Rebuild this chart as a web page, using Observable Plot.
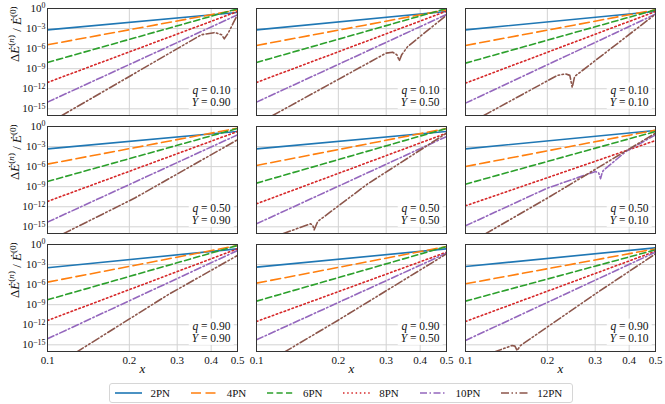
<!DOCTYPE html>
<html><head><meta charset="utf-8">
<script src="https://cdn.jsdelivr.net/npm/d3@7"></script>
<script src="https://cdn.jsdelivr.net/npm/@observablehq/plot@0.6"></script>
<style>
body{margin:0;background:#fff;font-family:"Liberation Serif",serif;}
#wrap{position:relative;width:665px;height:404px;overflow:hidden;}
#wrap svg text, #wrap svg tspan{font-family:"Liberation Serif",serif !important;}
#legend{position:absolute;left:109px;top:383px;width:464px;height:20px;box-sizing:border-box;border:1px solid #d6d6d6;border-radius:3px;display:flex;align-items:center;padding-left:4.5px;font-size:11px;color:#111;background:#fff;}
.item{display:flex;align-items:center;margin-right:20.7px;}
.item svg{margin-right:9px;}
</style></head><body><div id="wrap"></div>
<script>
// facet rows (q) and columns (Y)
const qVals = ["0.10", "0.50", "0.90"];
const YVals = ["0.90", "0.50", "0.10"];
const seriesNames = ["2PN", "4PN", "6PN", "8PN", "10PN", "12PN"];
const xTicks = [0.1, 0.2, 0.3, 0.4, 0.5];
const xTickLabels = ["0.1", "0.2", "0.3", "0.4", "0.5"];
const yTicks = [1e-15, 1e-12, 1e-9, 1e-6, 1e-3, 1];
const yTickExps = ["−15", "−12", "−9", "−6", "−3", "0"];

// Each series: 9 panels (row-major: q=0.10 [Y=0.90,0.50,0.10], q=0.50 [...], q=0.90 [...])
// each panel: list of [x, log10(ΔĖ/Ė0)] points
const s2PN = [
  [[0.1, -3.19], [0.5, -0.6]], [[0.1, -3.19], [0.5, -0.45]], [[0.1, -3.19], [0.5, -0.45]],
  [[0.1, -3.34], [0.5, -0.75]], [[0.1, -3.34], [0.5, -0.75]], [[0.1, -3.34], [0.5, -0.6]],
  [[0.1, -3.48], [0.5, -0.65]], [[0.1, -3.39], [0.5, -0.65]], [[0.1, -3.29], [0.5, -0.5]]
];
const s4PN = [
  [[0.1, -5.43], [0.5, -0.2]], [[0.1, -5.53], [0.5, -0.2]], [[0.1, -5.53], [0.5, -0.2]],
  [[0.1, -5.63], [0.5, -0.25]], [[0.1, -5.83], [0.5, -0.3]], [[0.1, -5.98], [0.5, -0.55]],
  [[0.1, -5.63], [0.5, -0.15]], [[0.1, -5.78], [0.5, -0.3]], [[0.1, -5.88], [0.5, -0.65]]
];
const s6PN = [
  [[0.1, -8.07], [0.5, -0.05]], [[0.1, -8.07], [0.5, 0.0]], [[0.1, -8.17], [0.5, -0.2]],
  [[0.1, -8.22], [0.5, -0.3]], [[0.1, -8.47], [0.5, -0.3]], [[0.1, -8.62], [0.5, -0.75]],
  [[0.1, -8.27], [0.5, -0.15]], [[0.1, -8.47], [0.5, -0.3]], [[0.1, -8.47], [0.5, -0.8]]
];
const s8PN = [
  [[0.1, -11.06], [0.5, -0.45]], [[0.1, -11.06], [0.5, -0.4]], [[0.1, -11.16], [0.5, -0.45]],
  [[0.1, -11.2], [0.5, -0.75]], [[0.1, -11.56], [0.5, -1.0]], [[0.1, -11.86], [0.5, -2.1]],
  [[0.1, -11.36], [0.5, -0.65]], [[0.1, -11.51], [0.5, -1.15]], [[0.1, -11.51], [0.5, -1.0]]
];
const s10PN = [
  [[0.1, -14.0], [0.5, -0.95]], [[0.1, -14.0], [0.5, -0.9]], [[0.1, -14.15], [0.5, -0.85]],
  [[0.1, -14.3], [0.5, -1.25]], [[0.1, -14.55], [0.5, -1.5]],
  [[0.1, -14.85], [0.1998, -9.22], [0.3007, -6.73], [0.309, -6.95], [0.314, -7.8], [0.318, -6.95], [0.321, -6.6], [0.39, -3.7], [0.5, -1.25]],
  [[0.1, -14.1], [0.5, -0.9]], [[0.1, -14.25], [0.5, -1.3]], [[0.1, -14.35], [0.5, -1.15]]
];
const s12PN = [
  [[0.1125, -16.04], [0.368, -3.93], [0.413, -3.59], [0.437, -3.93], [0.447, -4.53], [0.462, -3.69], [0.482, -2.2], [0.5, -0.95]],
  [[0.1147, -16.0], [0.2995, -6.68], [0.3167, -6.53], [0.3285, -6.93], [0.3353, -7.82], [0.342, -6.93], [0.36, -5.68], [0.5, -1.0]],
  [[0.1168, -16.0], [0.2173, -10.02], [0.2331, -9.77], [0.242, -10.0], [0.247, -11.8], [0.252, -10.17], [0.5, -0.85]],
  [[0.1143, -16.04], [0.2095, -10.7], [0.5, -1.99]],
  [[0.1249, -16.04], [0.1543, -14.7], [0.158, -14.55], [0.161, -14.75], [0.163, -15.45], [0.168, -14.2], [0.256, -8.6], [0.5, -1.0]],
  [[0.1185, -16.04], [0.1998, -10.72], [0.5, -1.0]],
  [[0.1278, -16.1], [0.278, -7.5], [0.5, -1.64]],
  [[0.1265, -16.1], [0.199, -11.36], [0.5, -1.4]],
  [[0.1271, -16.1], [0.1485, -15.1], [0.152, -15.2], [0.1549, -15.85], [0.1594, -15.1], [0.3, -7.4], [0.5, -1.4]]
];

const seriesData = {"2PN": s2PN, "4PN": s4PN, "6PN": s6PN, "8PN": s8PN, "10PN": s10PN, "12PN": s12PN};
const styles = {
  "2PN": {stroke: "#1f77b4", dash: null},
  "4PN": {stroke: "#ff7f0e", dash: "10,4.5"},
  "6PN": {stroke: "#2ca02c", dash: "6.2,3.3"},
  "8PN": {stroke: "#d62728", dash: "1.5,2.7"},
  "10PN": {stroke: "#9467bd", dash: "7,2.5,1.5,2.5"},
  "12PN": {stroke: "#8c564b", dash: "8,2.5,1.5,2.5,1.5,2.5"}
};

const rows = [];
for (const s of seriesNames) {
  seriesData[s].forEach((pts, i) => {
    const q = qVals[Math.floor(i / 3)], Y = YVals[i % 3];
    for (const [x, e] of pts) rows.push({series: s, q, Y, x, v: Math.pow(10, e)});
  });
}
const panels = [];
for (const q of qVals) for (const Y of YVals) panels.push({q, Y});
const ylabRows = qVals.map(q => ({q, Y: YVals[0]}));
const xlabCols = YVals.map(Y => ({q: qVals[2], Y}));

const marks = [
  Plot.ruleX(xTicks, {stroke: "#d2d2d2", strokeWidth: 1}),
  Plot.ruleY(yTicks, {stroke: "#d2d2d2", strokeWidth: 1}),
  ...seriesNames.map(s => Plot.line(rows.filter(d => d.series === s), {
    x: "x", y: "v", fx: "Y", fy: "q",
    stroke: styles[s].stroke, strokeWidth: 1.6,
    strokeDasharray: styles[s].dash || undefined, clip: true
  })),
  Plot.text(panels, {
    fx: "Y", fy: "q", text: d => "q = " + d.q,
    frameAnchor: "bottom-right", textAnchor: "end", dx: -7, dy: -22,
    fontSize: 11.5, fill: "#111"
  }),
  Plot.text(panels, {
    fx: "Y", fy: "q", text: d => "Y = " + d.Y,
    frameAnchor: "bottom-right", textAnchor: "end", dx: -7, dy: -9.5,
    fontSize: 11.5, fill: "#111"
  }),
  Plot.text(ylabRows, {
    fx: "Y", fy: "q", text: () => "YLAB", frameAnchor: "left", dx: -33,
    rotate: -90, fontSize: 13, fill: "#111"
  }),
  Plot.text(xlabCols, {
    fx: "Y", fy: "q", text: () => "x", frameAnchor: "bottom", dy: 21.5,
    fontSize: 13, fill: "#111"
  }),
  Plot.frame({stroke: "#333", strokeWidth: 1})
];

const chart = Plot.plot({
  width: 665, height: 376,
  marginLeft: 46, marginRight: 10, marginTop: 7, marginBottom: 24.5,
  style: {fontFamily: "'Liberation Serif', serif", fontSize: "11px", color: "#111", background: "white"},
  x: {type: "log", domain: [0.1, 0.5], ticks: xTicks, tickFormat: d => xTickLabels[xTicks.indexOf(d)], tickSize: 0, tickPadding: 5, label: null},
  y: {type: "log", domain: [1e-16, 1], ticks: yTicks, tickFormat: d => "10^" + yTickExps[yTicks.indexOf(d)], tickSize: 0, tickPadding: 2, label: null},
  fx: {domain: YVals, padding: 0.093, axis: null, label: null},
  fy: {domain: qVals, padding: 0.093, axis: null, label: null},
  marks
});
const wrap = document.getElementById("wrap");
wrap.appendChild(chart);

const NS = "http://www.w3.org/2000/svg";
function ts(parent, txt, attrs) {
  const t = document.createElementNS(NS, "tspan");
  for (const k in (attrs || {})) t.setAttribute(k, attrs[k]);
  t.textContent = txt;
  parent.appendChild(t);
  return t;
}
const svg = wrap.querySelector("svg");
const qTexts = [], YTexts = [];
svg.querySelectorAll("text").forEach(t => {
  const s = t.textContent;
  if (s.startsWith("10^")) {
    const exp = s.slice(3);
    t.textContent = "10";
    ts(t, exp, {dy: "-0.45em", "font-size": "0.72em"});
  } else if (s === "YLAB") {
    t.textContent = "";
    ts(t, "Δ");
    ts(t, "Ė", {"font-style": "italic"});
    ts(t, "(", {dy: "-0.5em", "font-size": "0.7em"});
    ts(t, "n", {"font-style": "italic", "font-size": "0.7em"});
    ts(t, ")", {"font-size": "0.7em"});
    ts(t, " / ", {dy: "0.5em"});
    ts(t, "Ė", {"font-style": "italic"});
    ts(t, "(0)", {dy: "-0.5em", "font-size": "0.7em"});
  } else if (s === "x") {
    t.setAttribute("font-style", "italic");
  } else if (s.startsWith("q = ") || s.startsWith("Y = ")) {
    t.textContent = "";
    ts(t, s[0], {"font-style": "italic"});
    ts(t, s.slice(1));
    (s[0] === "q" ? qTexts : YTexts).push(t);
  }
});
// white box behind each annotation (union of both lines), placed before the q text
qTexts.forEach((qt, i) => {
  const yt = YTexts[i];
  const target = qt.parentNode;
  const inv = target.getCTM().inverse();
  let x0 = Infinity, y0 = Infinity, x1 = -Infinity, y1 = -Infinity;
  for (const el of [qt, yt]) {
    const bb = el.getBBox();
    const m = inv.multiply(el.getCTM());
    for (const [px, py] of [[bb.x, bb.y], [bb.x + bb.width, bb.y], [bb.x, bb.y + bb.height], [bb.x + bb.width, bb.y + bb.height]]) {
      const p = svg.createSVGPoint(); p.x = px; p.y = py;
      const q = p.matrixTransform(m);
      x0 = Math.min(x0, q.x); y0 = Math.min(y0, q.y); x1 = Math.max(x1, q.x); y1 = Math.max(y1, q.y);
    }
  }
  const r = document.createElementNS(NS, "rect");
  r.setAttribute("x", x0 - 3);
  r.setAttribute("y", y0 - 1);
  r.setAttribute("width", x1 - x0 + 6);
  r.setAttribute("height", y1 - y0 + 2);
  r.setAttribute("fill", "white");
  r.setAttribute("fill-opacity", "0.85");
  target.insertBefore(r, qt);
});

// legend
const leg = document.createElement("div");
leg.id = "legend";
seriesNames.forEach(s => {
  const it = document.createElement("div");
  it.className = "item";
  const sw = d3.create("svg").attr("width", 27).attr("height", 8);
  sw.append("line").attr("x1", 0).attr("x2", 27).attr("y1", 4).attr("y2", 4)
    .attr("stroke", styles[s].stroke).attr("stroke-width", 1.6)
    .attr("stroke-dasharray", styles[s].dash);
  it.appendChild(sw.node());
  const lab = document.createElement("span");
  lab.textContent = s;
  it.appendChild(lab);
  leg.appendChild(it);
});
wrap.appendChild(leg);
</script>
</body></html>
